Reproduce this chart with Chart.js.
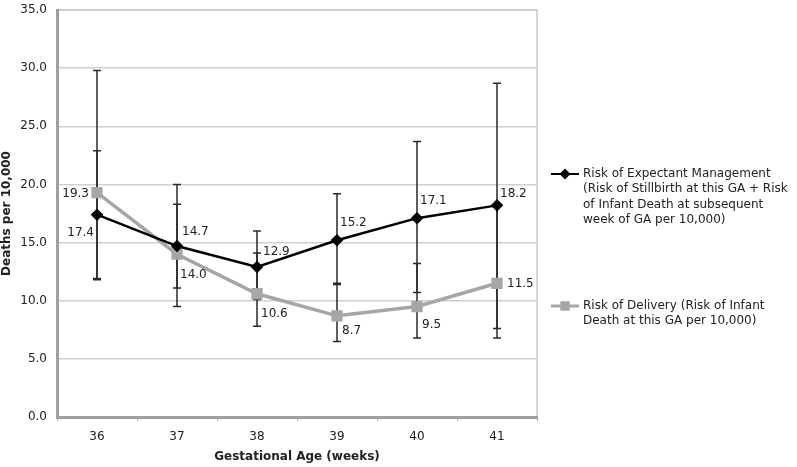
<!DOCTYPE html>
<html lang="en">
<head>
<meta charset="UTF-8">
<title>Risk of Expectant Management vs Risk of Delivery</title>
<style>
    body { margin: 0; padding: 0; background: #fff; }
</style>
<script src="https://cdn.jsdelivr.net/npm/chart.js"></script>
</head>
<body>
<canvas id="chart" width="797" height="467"></canvas>
<script>
// data
const weeks = ['36', '37', '38', '39', '40', '41'];
const expectant = [17.4, 14.7, 12.9, 15.2, 17.1, 18.2];
const expectantLow = [11.9, 11.1, 10.1, 11.5, 10.7, 7.6];
const expectantHigh = [22.9, 18.3, 16.0, 19.2, 23.7, 28.7];
const delivery = [19.3, 14.0, 10.6, 8.7, 9.5, 11.5];
const deliveryLow = [11.8, 9.5, 7.8, 6.5, 6.8, 6.8];
const deliveryHigh = [29.8, 20.0, 14.1, 11.4, 13.2, 18.3];
const yMax = 35;
const yStep = 5;

const expectantLegend = ['Risk of Expectant Management', '(Risk of Stillbirth at this GA + Risk', 'of Infant Death at subsequent', 'week of GA per 10,000)'];
const deliveryLegend = ['Risk of Delivery (Risk of Infant', 'Death at this GA per 10,000)'];

const FONT = '"DejaVu Sans", Verdana, sans-serif';

// label placement per point: [dx, dy, align]
const labelPos = [
    [[-3, 18, 'right'], [5, -14, 'left'], [6, -15, 'left'], [3, -17, 'left'], [3, -17, 'left'], [3, -11, 'left']],
    [[-8, 1, 'right'], [3, 21, 'left'], [4, 20, 'left'], [5, 15, 'left'], [5, 18, 'left'], [10, 1, 'left']]
];

const errorBars = {
    id: 'errorBars',
    beforeDatasetsDraw(chart) {
        const ctx = chart.ctx;
        const x = chart.scales.x, y = chart.scales.y;
        const ranges = [[expectantLow, expectantHigh], [deliveryLow, deliveryHigh]];
        ctx.save();
        ctx.strokeStyle = '#2a2a2a';
        ctx.lineWidth = 1.5;
        ranges.forEach(([lo, hi]) => {
            weeks.forEach((w, i) => {
                const px = x.getPixelForValue(i);
                const y1 = y.getPixelForValue(lo[i]);
                const y2 = y.getPixelForValue(hi[i]);
                ctx.beginPath();
                ctx.moveTo(px, y1); ctx.lineTo(px, y2);
                ctx.moveTo(px - 4, y1); ctx.lineTo(px + 4, y1);
                ctx.moveTo(px - 4, y2); ctx.lineTo(px + 4, y2);
                ctx.stroke();
            });
        });
        ctx.restore();
    }
};

const extras = {
    id: 'extras',
    beforeDraw(chart) {
        // frame of the plot area
        const a = chart.chartArea, ctx = chart.ctx;
        ctx.save();
        ctx.strokeStyle = '#c8c8c8';
        ctx.lineWidth = 1.5;
        ctx.beginPath();
        ctx.moveTo(a.left, a.top); ctx.lineTo(a.right, a.top); ctx.lineTo(a.right, a.bottom);
        ctx.stroke();
        ctx.restore();
    },
    afterDatasetsDraw(chart) {
        const ctx = chart.ctx;
        ctx.save();
        ctx.font = '12px ' + FONT;
        ctx.fillStyle = '#222';
        ctx.textBaseline = 'middle';
        chart.data.datasets.forEach((ds, d) => {
            chart.getDatasetMeta(d).data.forEach((pt, i) => {
                const [dx, dy, align] = labelPos[d][i];
                ctx.textAlign = align;
                ctx.fillText(ds.data[i].toFixed(1), pt.x + dx, pt.y + dy);
            });
        });

        // legend on the right
        const drawEntry = (lines, y0, color, width, style, radius) => {
            ctx.strokeStyle = color;
            ctx.lineWidth = width;
            ctx.beginPath();
            ctx.moveTo(551, y0); ctx.lineTo(579, y0);
            ctx.stroke();
            Chart.helpers.drawPoint(ctx, { pointStyle: style, radius: radius, borderWidth: 1 }, 565, y0);
            ctx.fillStyle = '#222';
            ctx.textAlign = 'left';
            lines.forEach((t, k) => ctx.fillText(t, 583, y0 + k * 15.3));
        };
        ctx.fillStyle = '#000';
        drawEntry(expectantLegend, 174, '#000', 2, 'rectRot', 4);
        ctx.fillStyle = '#a6a6a6';
        drawEntry(deliveryLegend, 306, '#a6a6a6', 3, 'rect', 4.5);
        ctx.restore();
    }
};

new Chart(document.getElementById('chart'), {
    type: 'line',
    data: {
        labels: weeks,
        datasets: [
            {
                label: 'Risk of Expectant Management',
                data: expectant,
                borderColor: '#000',
                backgroundColor: '#000',
                borderWidth: 2.5,
                pointStyle: 'rectRot',
                pointRadius: 4.5,
                tension: 0
            },
            {
                label: 'Risk of Delivery',
                data: delivery,
                borderColor: '#a6a6a6',
                backgroundColor: '#a6a6a6',
                borderWidth: 3.5,
                pointStyle: 'rect',
                pointRadius: 5.5,
                tension: 0
            }
        ]
    },
    options: {
        responsive: false,
        animation: false,
        layout: { padding: { top: 10, right: 260, left: 0, bottom: 0 } },
        plugins: {
            legend: { display: false },
            tooltip: { enabled: false }
        },
        scales: {
            x: {
                offset: true,
                afterFit(scale) { scale.height = 50; scale.paddingLeft = 0; scale.paddingRight = 0; },
                grid: { drawOnChartArea: false, drawTicks: true, tickLength: 4, color: '#aaa', offset: true },
                border: { color: '#a0a0a0', width: 3 },
                ticks: { font: { family: FONT, size: 12 }, color: '#222', padding: 9 },
                title: {
                    display: true,
                    text: 'Gestational Age (weeks)',
                    font: { family: FONT, size: 12, weight: 'bold' },
                    color: '#222',
                    padding: { top: 2, bottom: 3 }
                }
            },
            y: {
                min: 0,
                max: yMax,
                afterFit(scale) { scale.width = 57; scale.paddingTop = 0; scale.paddingBottom = 0; },
                grid: { color: '#d0d0d0', lineWidth: 1.5, drawTicks: false },
                border: { color: '#a0a0a0', width: 3 },
                ticks: {
                    stepSize: yStep,
                    font: { family: FONT, size: 12 },
                    color: '#222',
                    padding: 10,
                    callback: v => v.toFixed(1)
                },
                title: {
                    display: true,
                    text: 'Deaths per 10,000',
                    font: { family: FONT, size: 12, weight: 'bold' },
                    color: '#222',
                    padding: { top: 0, bottom: 0 }
                }
            }
        }
    },
    plugins: [errorBars, extras]
});
</script>
</body>
</html>
